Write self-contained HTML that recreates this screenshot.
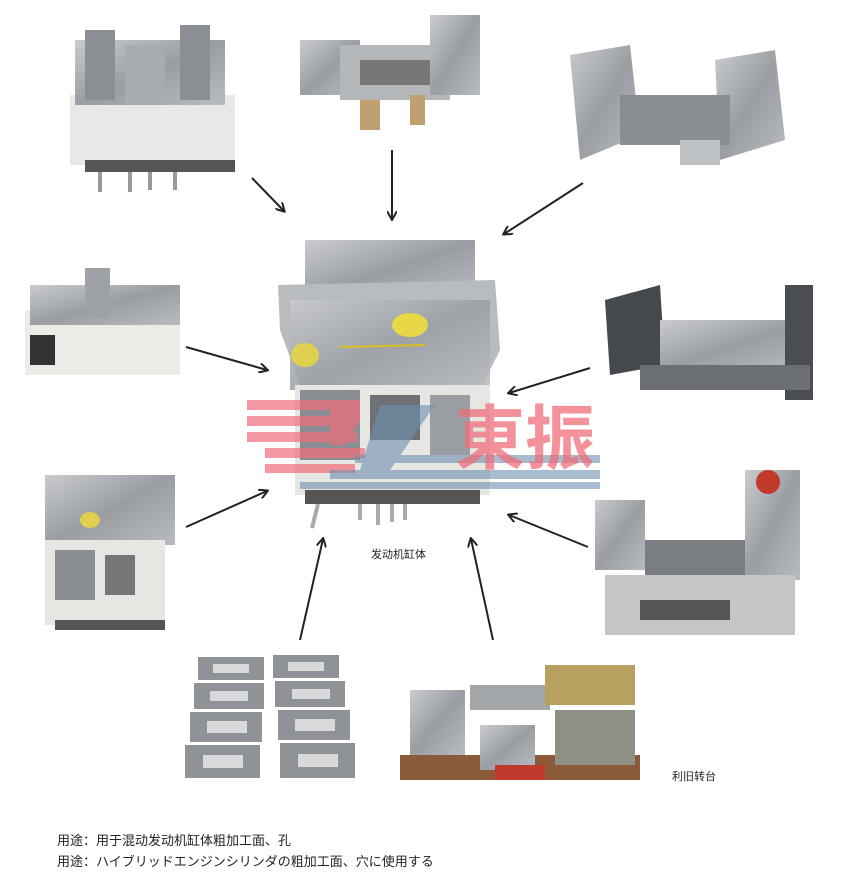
<!DOCTYPE html>
<html><head><meta charset="utf-8"><style>
html,body{margin:0;padding:0;background:#fff;}
body{width:845px;height:887px;position:relative;overflow:hidden;font-family:"Liberation Sans","Noto Sans CJK SC",sans-serif;}
.t{position:absolute;font-size:13px;color:#222;white-space:nowrap;}
</style></head><body>
<svg width="845" height="887" style="position:absolute;left:0;top:0">
<defs>
<linearGradient id="m" x1="0" y1="0" x2="1" y2="1"><stop offset="0" stop-color="#c9cbce"/><stop offset="0.5" stop-color="#9a9ea3"/><stop offset="1" stop-color="#b8bbbf"/></linearGradient>
<linearGradient id="d" x1="0" y1="0" x2="1" y2="1"><stop offset="0" stop-color="#7d8186"/><stop offset="1" stop-color="#4e5258"/></linearGradient>
<marker id="a" markerWidth="10" markerHeight="10" refX="8" refY="5" orient="auto" markerUnits="userSpaceOnUse"><path d="M0,0 L9,5 L0,10" fill="none" stroke="#222" stroke-width="2"/></marker>
</defs>
<rect x="70" y="95" width="165" height="70" fill="#e8e8e6"/>
<rect x="75" y="40" width="150" height="65" fill="url(#m)"/>
<rect x="85" y="30" width="30" height="70" fill="#8b8f94"/><rect x="180" y="25" width="30" height="75" fill="#8b8f94"/>
<rect x="125" y="45" width="40" height="60" fill="#a8acb0"/>
<rect x="85" y="160" width="150" height="12" fill="#555"/>
<g stroke="#999" stroke-width="4"><line x1="100" y1="172" x2="100" y2="192"/><line x1="130" y1="172" x2="130" y2="192"/><line x1="150" y1="172" x2="150" y2="190"/><line x1="175" y1="172" x2="175" y2="190"/></g>
<rect x="300" y="40" width="60" height="55" fill="url(#m)"/>
<rect x="340" y="45" width="110" height="55" fill="#b4b7ba"/>
<rect x="430" y="15" width="50" height="80" fill="url(#m)"/>
<rect x="360" y="60" width="70" height="25" fill="#777"/>
<rect x="360" y="100" width="20" height="30" fill="#c0a070"/><rect x="410" y="95" width="15" height="30" fill="#c0a070"/>
<polygon points="570,55 630,45 640,135 580,160" fill="url(#m)"/>
<polygon points="715,60 775,50 785,140 720,160" fill="url(#m)"/>
<rect x="620" y="95" width="110" height="50" fill="#8a8e93"/>
<rect x="680" y="140" width="40" height="25" fill="#bfc2c5"/>
<rect x="25" y="310" width="155" height="65" fill="#ecebe8"/>
<rect x="30" y="285" width="150" height="40" fill="url(#m)"/>
<rect x="85" y="268" width="25" height="50" fill="#9ea2a6"/>
<rect x="30" y="335" width="25" height="30" fill="#333"/>
<polygon points="605,300 660,285 665,365 610,375" fill="#45494e"/>
<rect x="660" y="320" width="150" height="50" fill="url(#m)"/>
<rect x="785" y="285" width="28" height="115" fill="#4a4e53"/>
<rect x="640" y="365" width="170" height="25" fill="#6b6f74"/>
<rect x="305" y="240" width="170" height="60" fill="url(#m)"/>
<polygon points="278,285 495,280 500,350 480,390 300,385 280,330" fill="#b9bcbf"/>
<rect x="290" y="300" width="200" height="90" fill="url(#m)" opacity="0.85"/>
<ellipse cx="305" cy="355" rx="14" ry="12" fill="#e0d050"/><ellipse cx="410" cy="325" rx="18" ry="12" fill="#e8d848"/>
<line x1="340" y1="347" x2="425" y2="345" stroke="#d8c020" stroke-width="2"/>
<rect x="295" y="385" width="195" height="110" fill="#e6e6e3"/>
<rect x="300" y="390" width="60" height="70" fill="#8a8e93"/><rect x="370" y="395" width="50" height="45" fill="#6d7176"/><rect x="430" y="395" width="40" height="60" fill="#9a9ea2"/>
<rect x="305" y="490" width="175" height="14" fill="#555"/>
<g stroke="#aaa" stroke-width="4"><line x1="318" y1="504" x2="312" y2="528"/><line x1="360" y1="504" x2="360" y2="520"/><line x1="378" y1="504" x2="378" y2="525"/><line x1="392" y1="504" x2="392" y2="522"/><line x1="405" y1="504" x2="405" y2="520"/></g>
<rect x="45" y="475" width="130" height="70" fill="url(#m)"/>
<rect x="45" y="540" width="120" height="85" fill="#e6e6e3"/>
<rect x="55" y="550" width="40" height="50" fill="#8a8e93"/><rect x="105" y="555" width="30" height="40" fill="#777"/>
<ellipse cx="90" cy="520" rx="10" ry="8" fill="#e0d050"/>
<rect x="55" y="620" width="110" height="10" fill="#555"/>
<rect x="595" y="500" width="50" height="70" fill="url(#m)"/>
<rect x="745" y="470" width="55" height="110" fill="url(#m)"/>
<circle cx="768" cy="482" r="12" fill="#c0392b"/>
<rect x="645" y="540" width="100" height="35" fill="#7a7e83"/>
<rect x="605" y="575" width="190" height="60" fill="#c3c5c7"/>
<rect x="640" y="600" width="90" height="20" fill="#555"/>
<g fill="#8f9397"><rect x="198" y="657" width="66" height="23"/><rect x="273" y="655" width="66" height="23"/>
<rect x="194" y="683" width="70" height="26"/><rect x="275" y="681" width="70" height="26"/>
<rect x="190" y="712" width="72" height="30"/><rect x="278" y="710" width="72" height="30"/>
<rect x="185" y="745" width="75" height="33"/><rect x="280" y="743" width="75" height="35"/></g>
<g fill="#d8d9da"><rect x="213" y="664" width="36" height="9"/><rect x="288" y="662" width="36" height="9"/>
<rect x="210" y="691" width="38" height="10"/><rect x="292" y="689" width="38" height="10"/>
<rect x="207" y="721" width="40" height="12"/><rect x="295" y="719" width="40" height="12"/>
<rect x="203" y="755" width="40" height="13"/><rect x="298" y="754" width="40" height="13"/></g>
<rect x="400" y="755" width="240" height="25" fill="#8a5a3a"/>
<rect x="410" y="690" width="55" height="65" fill="url(#m)"/>
<rect x="470" y="685" width="80" height="25" fill="#a4a7aa"/>
<rect x="480" y="725" width="55" height="45" fill="url(#m)"/>
<rect x="545" y="665" width="90" height="40" fill="#b8a060"/>
<rect x="555" y="710" width="80" height="55" fill="#8f8f86"/>
<rect x="495" y="765" width="50" height="15" fill="#c0392b"/>
<g stroke="#222" stroke-width="2" marker-end="url(#a)">
<line x1="252" y1="178" x2="284" y2="211"/>
<line x1="392" y1="150" x2="392" y2="219"/>
<line x1="583" y1="183" x2="504" y2="234"/>
<line x1="186" y1="347" x2="267" y2="370"/>
<line x1="590" y1="368" x2="509" y2="393"/>
<line x1="186" y1="527" x2="267" y2="491"/>
<line x1="588" y1="547" x2="509" y2="515"/>
<line x1="300" y1="640" x2="323" y2="539"/>
<line x1="493" y1="640" x2="471" y2="539"/>
</g>
<g fill="#f06e7a" opacity="0.7">
<rect x="247" y="400" width="95" height="10"/><rect x="247" y="416" width="110" height="10"/><rect x="247" y="432" width="110" height="10"/>
<rect x="265" y="448" width="100" height="10"/><rect x="265" y="464" width="90" height="9"/>
<polygon points="330,400 360,400 360,420 345,445 330,445"/>
</g>
<g fill="#6f8fb0" opacity="0.6">
<polygon points="380,405 435,405 390,470 360,470"/>
<rect x="355" y="455" width="245" height="8"/><rect x="330" y="470" width="270" height="9"/><rect x="300" y="482" width="300" height="7"/>
</g>
<text x="455" y="463" font-family="Noto Sans CJK SC,sans-serif" font-weight="bold" font-size="70" fill="#f06e7a" opacity="0.75">東振</text>
</svg>
<div class="t" style="left:371px;top:546px;font-size:11px">发动机缸体</div>
<div class="t" style="left:672px;top:768px;font-size:11px">利旧转台</div>
<div class="t" style="left:57px;top:830px">用途：用于混动发动机缸体粗加工面、孔</div>
<div class="t" style="left:57px;top:851px">用途：ハイブリッドエンジンシリンダの粗加工面、穴に使用する</div>
</body></html>
